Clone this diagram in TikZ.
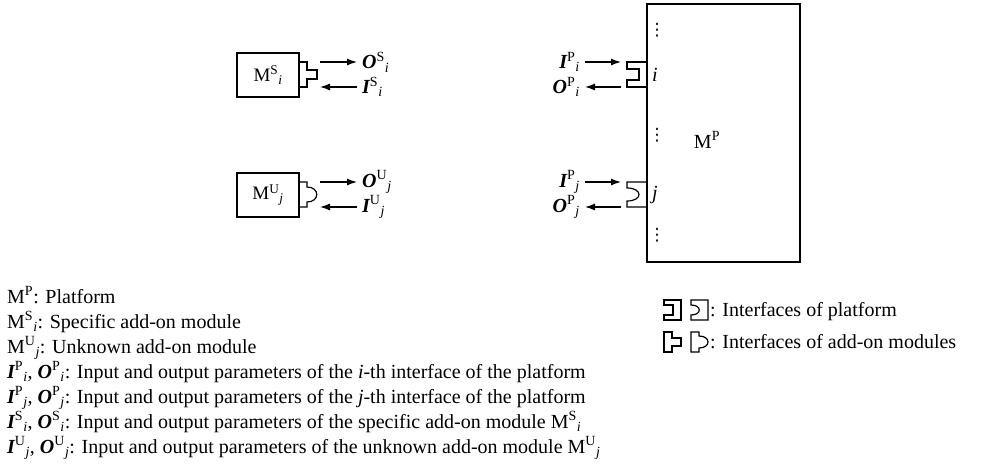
\documentclass[tikz,border=0pt]{standalone}
\usepackage{fontspec}
\setmainfont{Liberation Serif}
\newfontfamily\dotsfont{DejaVu Sans}
\usetikzlibrary{arrows.meta,positioning,calc}
\tikzset{
  modbox/.style={draw, line width=1.3pt, minimum width=62pt, minimum height=44pt,
                 inner sep=0pt, font=\fontsize{19}{23}\selectfont},
  platbox/.style={draw, line width=1.3pt, minimum width=153pt, minimum height=258pt, inner sep=0pt},
  iface/.style={draw, line width=1.2pt, line join=miter},
  flow/.style={-{Latex[length=10pt,width=7pt]}, line width=1.3pt},
  sym/.style={inner sep=5pt, font=\fontsize{20}{24}\selectfont},
  legend/.style={anchor=base west, inner sep=0pt, font=\fontsize{20}{24}\selectfont}
}
\newcommand{\msym}[3]{$\mbox{#1}^{\mathrm{#2}}{}_{\mathit{#3}}$}
\newcommand{\bim}{\bfseries\itshape}

\begin{document}
\begin{tikzpicture}[x=1pt,y=-1pt]
  \useasboundingbox (0,0) rectangle (998,465);
  % add-on modules
  \node[modbox] (mS) at (268,75) {\msym{M}{S}{i}};
  \node[modbox] (mU) at (268,195) {\msym{M}{U}{j}};
  \draw[iface] (299,62) -- (307,62) -- (307,70) -- (317,70) -- (317,79) -- (307,79) -- (307,87) -- (299,87);
  \draw[iface] (299,182) -- (307,182) -- (307,187) .. controls (320,187) and (320,202) .. (307,202)
    -- (307,207) -- (299,207);
  % module parameters
  \coordinate (oSa) at (320,62);
  \coordinate (iSa) at (320,87);
  \coordinate (oUa) at (320,182);
  \coordinate (iUa) at (320,207);
  \node[sym, anchor=west] (oS) at (357,62) {\msym{\bim O}{S}{i}};
  \node[sym, anchor=west] (iS) at (357,87) {\msym{\bim I}{S}{i}};
  \node[sym, anchor=west] (oU) at (357,182) {\msym{\bim O}{U}{j}};
  \node[sym, anchor=west] (iU) at (357,207) {\msym{\bim I}{U}{j}};
  \draw[flow] (oSa) -- (oS);
  \draw[flow] (iS) -- (iSa);
  \draw[flow] (oUa) -- (oU);
  \draw[flow] (iU) -- (iUa);
  % platform
  \node[platbox] (plat) at (723.5,133) {};
  \node[sym] (mP) at (707,140) {$\mbox{M}^{\mathrm{P}}$};
  \node[sym, anchor=west, inner sep=2pt] (li) at (650,75) {\textit{i}};
  \node[sym, anchor=west, inner sep=2pt] (lj) at (650,195) {\textit{j}};
  \foreach \n/\y in {1/30,2/135,3/235}
    \node[inner sep=0pt, font=\dotsfont\fontsize{17}{17}\selectfont] (dots\n) at (657,\y) {⋮};
  \draw[iface] (647,62) -- (627,62) -- (627,69) -- (639,69) -- (639,80) -- (627,80) -- (627,87) -- (647,87);
  \draw[iface] (647,182) -- (627,182) -- (627,188) .. controls (643,188) and (643,201) .. (627,201)
    -- (627,207) -- (647,207);
  % platform parameters
  \coordinate (iPia) at (621,62);
  \coordinate (oPia) at (621,87);
  \coordinate (iPja) at (621,182);
  \coordinate (oPja) at (621,207);
  \node[sym, anchor=east] (iPi) at (585,62) {\msym{\bim I}{P}{i}};
  \node[sym, anchor=east] (oPi) at (585,87) {\msym{\bim O}{P}{i}};
  \node[sym, anchor=east] (iPj) at (585,182) {\msym{\bim I}{P}{j}};
  \node[sym, anchor=east] (oPj) at (585,207) {\msym{\bim O}{P}{j}};
  \draw[flow] (iPi) -- (iPia);
  \draw[flow] (oPia) -- (oPi);
  \draw[flow] (iPj) -- (iPja);
  \draw[flow] (oPja) -- (oPj);
  % legend
  \node[legend] (leg1) at (7,303.5) {$\mbox{M}^{\mathrm{P}}$: Platform};
  \node[legend] (leg2) at (7,328.5) {\msym{M}{S}{i}: Specific add-on module};
  \node[legend] (leg3) at (7,353.5) {\msym{M}{U}{j}: Unknown add-on module};
  \node[legend] (leg4) at (7,378.5) {\msym{\bim I}{P}{i}, \msym{\bim O}{P}{i}: Input and output parameters of the \textit{i}-th interface of the platform};
  \node[legend] (leg5) at (7,403.5) {\msym{\bim I}{P}{j}, \msym{\bim O}{P}{j}: Input and output parameters of the \textit{j}-th interface of the platform};
  \node[legend] (leg6) at (7,428.5) {\msym{\bim I}{S}{i}, \msym{\bim O}{S}{i}: Input and output parameters of the specific add-on module \msym{M}{S}{i}};
  \node[legend] (leg7) at (7,453.5) {\msym{\bim I}{U}{j}, \msym{\bim O}{U}{j}: Input and output parameters of the unknown add-on module \msym{M}{U}{j}};
  % interface symbols
  \draw[iface] (664,300) -- (681,300) -- (681,320) -- (664,320) -- (664,315) -- (673,315) -- (673,305) -- (664,305) -- cycle;
  \draw[iface] (691,300) -- (708,300) -- (708,320) -- (691,320) -- (691,315) .. controls (702,315) and (702,305) .. (691,305) -- cycle;
  \draw[iface] (664,332) -- (672,332) -- (672,338) -- (681,338) -- (681,346) -- (672,346) -- (672,352) -- (664,352) -- cycle;
  \draw[iface] (691,332) -- (699,332) -- (699,336) .. controls (711,336) and (711,348) .. (699,348) -- (699,352) -- (691,352) -- cycle;
  \node[legend] (leg8) at (710,316.5) {: Interfaces of platform};
  \node[legend] (leg9) at (710,348.5) {: Interfaces of add-on modules};
\end{tikzpicture}
\end{document}
